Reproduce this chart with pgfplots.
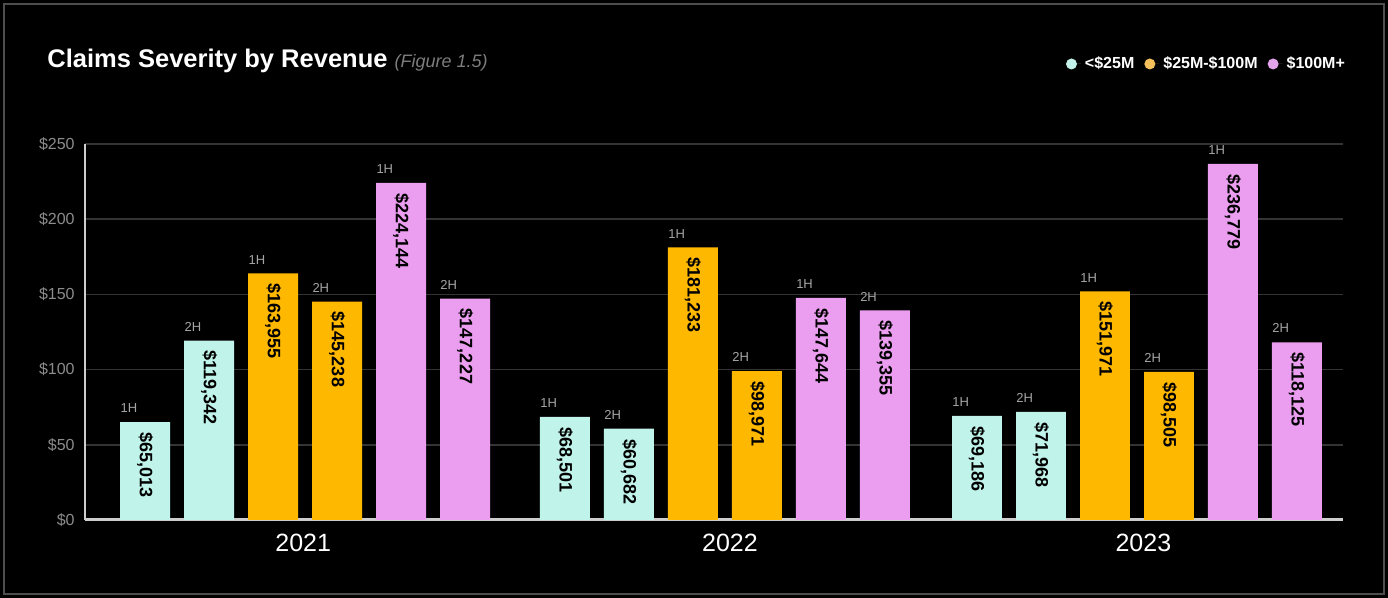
\documentclass[border=0pt]{standalone}
\usepackage{pgfplots}
\usepackage{pgfplotstable}
\pgfplotsset{compat=1.18}
\usepackage{fontspec}
\setmainfont{Liberation Sans}
\definecolor{mint}{RGB}{192,243,234}
\definecolor{orng}{RGB}{255,184,0}
\definecolor{pink}{RGB}{235,158,240}
\definecolor{legmint}{RGB}{196,242,232}
\definecolor{legorng}{RGB}{244,192,92}
\definecolor{legpink}{RGB}{226,164,234}
\definecolor{gridgray}{RGB}{52,52,52}
\definecolor{axisgray}{RGB}{205,205,205}
\definecolor{tickgray}{RGB}{140,140,140}
\definecolor{hgray}{RGB}{165,165,165}
\definecolor{figgray}{RGB}{125,125,125}
\definecolor{framegray}{RGB}{78,78,78}

\pgfplotstableread{
x y lab h
0 65.013 65,013 1H
1 119.342 119,342 2H
6.56 68.501 68,501 1H
7.56 60.682 60,682 2H
13 69.186 69,186 1H
14 71.968 71,968 2H
}\tabmint
\pgfplotstableread{
x y lab h
2 163.955 163,955 1H
3 145.238 145,238 2H
8.56 181.233 181,233 1H
9.56 98.971 98,971 2H
15 151.971 151,971 1H
16 98.505 98,505 2H
}\taborng
\pgfplotstableread{
x y lab h
4 224.144 224,144 1H
5 147.227 147,227 2H
10.56 147.644 147,644 1H
11.56 139.355 139,355 2H
17 236.779 236,779 1H
18 118.125 118,125 2H
}\tabpink

\pgfplotsset{
  valbar/.style={ybar, bar width=0.78, bar shift=0pt, draw=none,
    point meta=explicit symbolic,
    nodes near coords={\$\pgfplotspointmeta},
    every node near coord/.append style={rotate=-90, anchor=west, text=black,
      font=\bfseries\fontsize{9}{10}\selectfont, inner xsep=5pt, inner ysep=0pt}},
  hlab/.style={forget plot, draw=none, mark=none,
    point meta=explicit symbolic, nodes near coords,
    every node near coord/.append style={anchor=south west, xshift=-12.5pt, yshift=4.5pt,
      inner sep=0pt, text=hgray, font=\fontsize{6.5}{7.5}\selectfont}},
}

\begin{document}
\begin{tikzpicture}
\path[use as bounding box] (0,0) rectangle (694pt,299pt);
\fill[black] (0,0) rectangle (694pt,299pt);
\draw[framegray, line width=1pt] (2pt,2pt) rectangle (692pt,297pt);
\node[anchor=base west, inner sep=0pt, text=white, font=\bfseries\fontsize{12.75}{14}\selectfont]
  at (23.5pt,265pt) {Claims Severity by Revenue {\color{figgray}\mdseries\itshape\fontsize{9}{10}\selectfont (Figure 1.5)}};
\begin{axis}[
  at={(42.5pt,39pt)}, anchor=south west,
  scale only axis, width=629pt, height=188pt,
  xmin=-0.94, xmax=18.72, ymin=0, ymax=250,
  axis lines*=left,
  x axis line style={draw=axisgray, line width=1.5pt},
  y axis line style={draw=axisgray, line width=1pt},
  major tick length=0pt,
  ytick={0,50,100,150,200,250},
  yticklabels={\$0,\$50,\$100,\$150,\$200,\$250},
  yticklabel style={text=tickgray, font=\fontsize{8}{9}\selectfont, inner sep=0pt, xshift=-5pt},
  xtick={2.47,9.14,15.6},
  xticklabels={2021,2022,2023},
  xticklabel style={text=white, font=\fontsize{12.5}{14}\selectfont, inner sep=0pt, yshift=-7pt},
  ymajorgrids, grid style={draw=gridgray, line width=0.8pt},
  clip=false,
  legend style={at={(1.005,1.2128)}, anchor=east, draw=none, fill=none, text=white,
    font=\bfseries\fontsize{8}{9.5}\selectfont, inner sep=0pt,
    /tikz/every even column/.append style={column sep=3pt}},
  legend columns=3,
]
\addplot[valbar, fill=mint,
  legend image code/.code={\fill[legmint] (2.75pt,0pt) circle (2.75pt); \path (0pt,0pt) -- (7.5pt,0pt);}]
  table[x=x,y=y,meta=lab]{\tabmint};
\addlegendentry{<\$25M}
\addplot[valbar, fill=orng,
  legend image code/.code={\fill[legorng] (2.75pt,0pt) circle (2.75pt); \path (0pt,0pt) -- (7.5pt,0pt);}]
  table[x=x,y=y,meta=lab]{\taborng};
\addlegendentry{\$25M-\$100M}
\addplot[valbar, fill=pink,
  legend image code/.code={\fill[legpink] (2.75pt,0pt) circle (2.75pt); \path (0pt,0pt) -- (7.5pt,0pt);}]
  table[x=x,y=y,meta=lab]{\tabpink};
\addlegendentry{\$100M+}
\addplot[hlab] table[x=x,y=y,meta=h]{\tabmint};
\addplot[hlab] table[x=x,y=y,meta=h]{\taborng};
\addplot[hlab] table[x=x,y=y,meta=h]{\tabpink};
\end{axis}
\end{tikzpicture}
\end{document}
